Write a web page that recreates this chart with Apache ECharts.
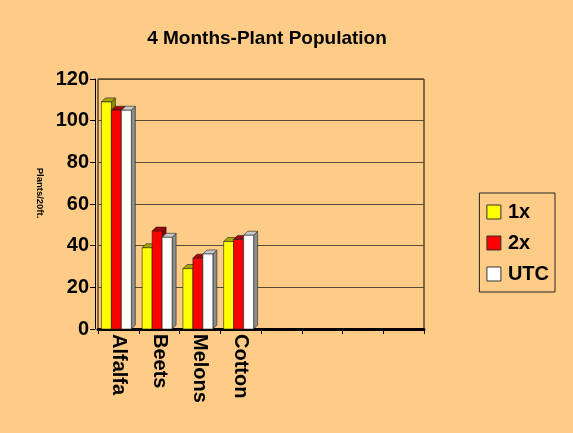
<!DOCTYPE html>
<html>
<head>
<meta charset="utf-8">
<script src="https://cdn.jsdelivr.net/npm/echarts@6/dist/echarts.min.js"></script>
<style>
  html, body { margin: 0; padding: 0; background: #ffcc88; }
  #chart { width: 573px; height: 433px; }
</style>
</head>
<body>
<div id="chart"></div>
<script>
// categories: 4 crops, the rest of the axis is left empty like in the original sheet
const categories = ['Alfalfa', 'Beets', 'Melons', 'Cotton', '', '', '', ''];
const seriesNames = ['1x', '2x', 'UTC'];
const values1x = [109, 39, 29, 42];
const values2x = [105, 47, 34, 43];
const valuesUTC = [105, 44, 36, 45];
const yTicks = [0, 20, 40, 60, 80, 100, 120];

const faceColors = ['#ffff00', '#ff0000', '#ffffff'];
const sideColors = ['#8c8c00', '#8c0000', '#8c8c8c'];
const topColors = ['#a6a600', '#a60000', '#c8c8c8'];

// draws a little 3d bar: front face, right side and top
function bar3d(idx, name, data) {
  return {
    type: 'custom',
    name: name,
    itemStyle: { color: faceColors[idx], borderColor: '#333', borderWidth: 1 },
    data: data.map((v, i) => [i, v]),
    renderItem: function (params, api) {
      const cat = api.value(0);
      const v = api.value(1);
      const base = api.coord([cat, 0]);
      const top = api.coord([cat, v]);
      const slot = api.size([1, 0])[0];
      const bw = slot * 0.245;
      const d = 4;
      const x0 = base[0] - 1.5 * bw + idx * bw - 2;
      const x1 = x0 + bw;
      const y0 = top[1];
      const y1 = base[1];
      const line = { stroke: '#222', lineWidth: 0.6 };
      return {
        type: 'group',
        children: [
          {
            type: 'polygon',
            shape: { points: [[x1, y0], [x1 + d, y0 - d], [x1 + d, y1 - d], [x1, y1]] },
            style: Object.assign({ fill: sideColors[idx] }, line)
          },
          {
            type: 'polygon',
            shape: { points: [[x0, y0], [x0 + d, y0 - d], [x1 + d, y0 - d], [x1, y0]] },
            style: Object.assign({ fill: topColors[idx] }, line)
          },
          {
            type: 'rect',
            shape: { x: x0, y: y0, width: bw, height: y1 - y0 },
            style: Object.assign({ fill: faceColors[idx] }, line)
          }
        ]
      };
    }
  };
}

const font = 'Liberation Sans, Arial';
const chart = echarts.init(document.getElementById('chart'));
chart.setOption({
  backgroundColor: '#ffcc88',
  animation: false,
  title: {
    text: '4 Months-Plant Population',
    left: 262,
    textAlign: 'center',
    top: 24,
    textStyle: { fontFamily: font, fontWeight: 'bold', fontSize: 19, color: '#000' }
  },
  legend: {
    orient: 'vertical',
    right: 18,
    top: 193,
    data: seriesNames,
    icon: 'rect',
    itemWidth: 14,
    itemHeight: 14,
    itemGap: 11,
    padding: [9, 6, 8, 7],
    borderColor: '#222',
    borderWidth: 1,
    itemStyle: { borderColor: '#333', borderWidth: 1 },
    textStyle: { fontFamily: font, fontWeight: 'bold', fontSize: 20, color: '#000', padding: [0, 0, 0, 2] }
  },
  grid: {
    left: 98,
    right: 149,
    top: 79,
    bottom: 104,
    show: true,
    borderColor: '#000',
    borderWidth: 1,
    backgroundColor: 'transparent'
  },
  xAxis: {
    type: 'category',
    data: categories,
    boundaryGap: true,
    axisLine: { lineStyle: { color: '#000', width: 3 } },
    axisTick: { show: true, length: 5, lineStyle: { color: '#000' } },
    axisLabel: {
      rotate: -90,
      interval: 0,
      margin: 5,
      fontFamily: font,
      fontWeight: 'bold',
      fontSize: 20,
      color: '#000'
    }
  },
  yAxis: {
    type: 'value',
    min: 0,
    max: 120,
    interval: 20,
    offset: 3,
    name: 'Plants/20ft.',
    nameLocation: 'middle',
    nameRotate: -90,
    nameGap: 50,
    nameTextStyle: { fontFamily: font, fontWeight: 'bold', fontSize: 9.5, color: '#000', padding: [0, 22, 0, 0] },
    axisLine: { show: true, lineStyle: { color: '#000', width: 1 } },
    axisTick: { show: true, length: 5, lineStyle: { color: '#000' } },
    axisLabel: {
      margin: 6,
      fontFamily: font,
      fontWeight: 'bold',
      fontSize: 20,
      color: '#000',
      formatter: v => (yTicks.indexOf(v) >= 0 ? String(v) : '')
    },
    splitLine: { show: true, lineStyle: { color: '#5a4a38', width: 1 } }
  },
  series: [
    bar3d(0, seriesNames[0], values1x),
    bar3d(1, seriesNames[1], values2x),
    bar3d(2, seriesNames[2], valuesUTC)
  ]
});
</script>
</body>
</html>
